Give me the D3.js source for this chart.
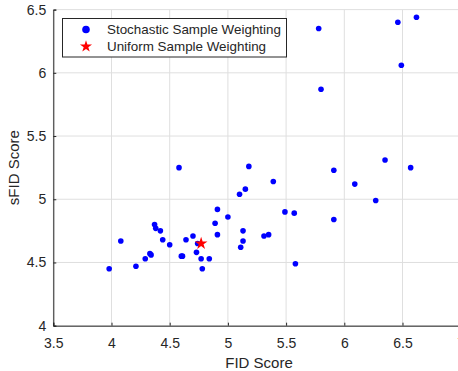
<!DOCTYPE html>
<html>
<head>
<meta charset="utf-8">
<script src="https://cdn.jsdelivr.net/npm/d3@7"></script>
<style>
  body { margin: 0; background: #fff; }
  text { font-family: "Liberation Sans", Arial, sans-serif; fill: #262626; }
</style>
</head>
<body>
<script>
// stochastic sample weighting runs: FID vs sFID
const stochFID = [3.98, 4.08, 4.21, 4.29, 4.33, 4.34, 4.37, 4.38, 4.42, 4.44, 4.50, 4.60, 4.61, 4.64, 4.70, 4.74, 4.73, 4.77, 4.84, 4.78,
                  4.58, 5.18, 5.39, 5.15, 5.10, 4.91, 5.00, 4.89, 4.91, 5.49, 5.57, 5.13, 5.13, 5.11, 5.31, 5.35, 5.58,
                  5.78, 6.46, 6.62, 6.49, 5.80, 6.35, 5.91, 6.57, 6.09, 6.27, 5.91];
const stochSFID = [4.45, 4.67, 4.47, 4.53, 4.57, 4.56, 4.80, 4.77, 4.75, 4.68, 4.64, 4.55, 4.55, 4.68, 4.71, 4.65, 4.58, 4.53, 4.53, 4.45,
                   5.25, 5.26, 5.14, 5.08, 5.04, 4.92, 4.86, 4.81, 4.72, 4.90, 4.89, 4.75, 4.67, 4.62, 4.71, 4.72, 4.49,
                   6.35, 6.40, 6.44, 6.06, 5.87, 5.31, 5.23, 5.25, 5.12, 4.99, 4.84];
// uniform sample weighting
const uniformFID = [4.77];
const uniformSFID = [4.65];

const xTicks = [3.5, 4, 4.5, 5, 5.5, 6, 6.5, 7];
const yTicks = [4, 4.5, 5, 5.5, 6, 6.5];
const legendLabels = ["Stochastic Sample Weighting", "Uniform Sample Weighting"];

const W = 458, H = 371;
const margin = { top: 9.6, right: -2.7, bottom: 45.3, left: 53.3 };
const width = W - margin.left - margin.right,
      height = H - margin.top - margin.bottom;

const svg = d3.select('body').append('svg')
    .attr('width', W)
    .attr('height', H);

const g = svg.append('g')
    .attr('transform', `translate(${margin.left},${margin.top})`);

const x = d3.scaleLinear().domain([3.5, 7]).range([0, width]);
const y = d3.scaleLinear().domain([4, 6.5]).range([height, 0]);

// grid
g.append('g').selectAll('line')
    .data(xTicks)
    .enter().append('line')
        .attr('x1', d => x(d)).attr('x2', d => x(d))
        .attr('y1', 0).attr('y2', height)
        .attr('stroke', '#dfdfdf').attr('stroke-width', 1);
g.append('g').selectAll('line')
    .data(yTicks)
    .enter().append('line')
        .attr('x1', 0).attr('x2', width)
        .attr('y1', d => y(d)).attr('y2', d => y(d))
        .attr('stroke', '#dfdfdf').attr('stroke-width', 1);

// axes, ticks inward
const xAxis = g.append('g')
    .attr('transform', `translate(0,${height})`)
    .call(d3.axisBottom(x).tickValues(xTicks).tickSize(-3).tickPadding(12).tickFormat(d3.format('')));
const yAxis = g.append('g')
    .call(d3.axisLeft(y).tickValues(yTicks).tickSize(-3).tickPadding(7).tickFormat(d3.format('')));

[xAxis, yAxis].forEach(a => {
    a.select('.domain').attr('stroke', '#262626');
    a.selectAll('.tick line').attr('stroke', '#262626');
    a.selectAll('.tick text')
        .attr('font-size', '14px')
        .attr('font-family', '"Liberation Sans", Arial, sans-serif')
        .attr('fill', '#262626');
});

// axis labels
g.append('text')
    .attr('x', width / 2 + 2)
    .attr('y', height + 42.3)
    .attr('font-size', '15px')
    .attr('text-anchor', 'middle')
    .text('FID Score');

g.append('text')
    .attr('x', -height / 2)
    .attr('y', -34)
    .attr('font-size', '15px')
    .attr('text-anchor', 'middle')
    .attr('transform', 'rotate(-90)')
    .text('sFID Score');

// stochastic points
g.selectAll('circle.stoch')
    .data(d3.zip(stochFID, stochSFID))
    .enter().append('circle')
        .attr('class', 'stoch')
        .attr('cx', d => x(d[0]))
        .attr('cy', d => y(d[1]))
        .attr('r', 2.8)
        .attr('fill', '#0000ff');

// uniform point
const star = d3.symbol().type(d3.symbolStar).size(50);
g.selectAll('path.uniform')
    .data(d3.zip(uniformFID, uniformSFID))
    .enter().append('path')
        .attr('class', 'uniform')
        .attr('d', star)
        .attr('transform', d => `translate(${x(d[0])},${y(d[1])})`)
        .attr('fill', '#ff0000');

// legend
const legend = svg.append('g').attr('transform', 'translate(62.5,18.5)');
legend.append('rect')
    .attr('width', 224)
    .attr('height', 38.5)
    .attr('fill', '#fff')
    .attr('stroke', '#262626')
    .attr('stroke-width', 1);
legend.append('circle')
    .attr('cx', 23.5).attr('cy', 11)
    .attr('r', 3.8)
    .attr('fill', '#0000ff');
legend.append('path')
    .attr('d', d3.symbol().type(d3.symbolStar).size(45))
    .attr('transform', 'translate(23.5,28)')
    .attr('fill', '#ff0000');
legend.selectAll('text')
    .data(legendLabels)
    .enter().append('text')
        .attr('x', 44.5)
        .attr('y', (d, i) => 11 + i * 17)
        .attr('dy', '0.35em')
        .attr('font-size', '13.4px')
        .text(d => d);
</script>
</body>
</html>
